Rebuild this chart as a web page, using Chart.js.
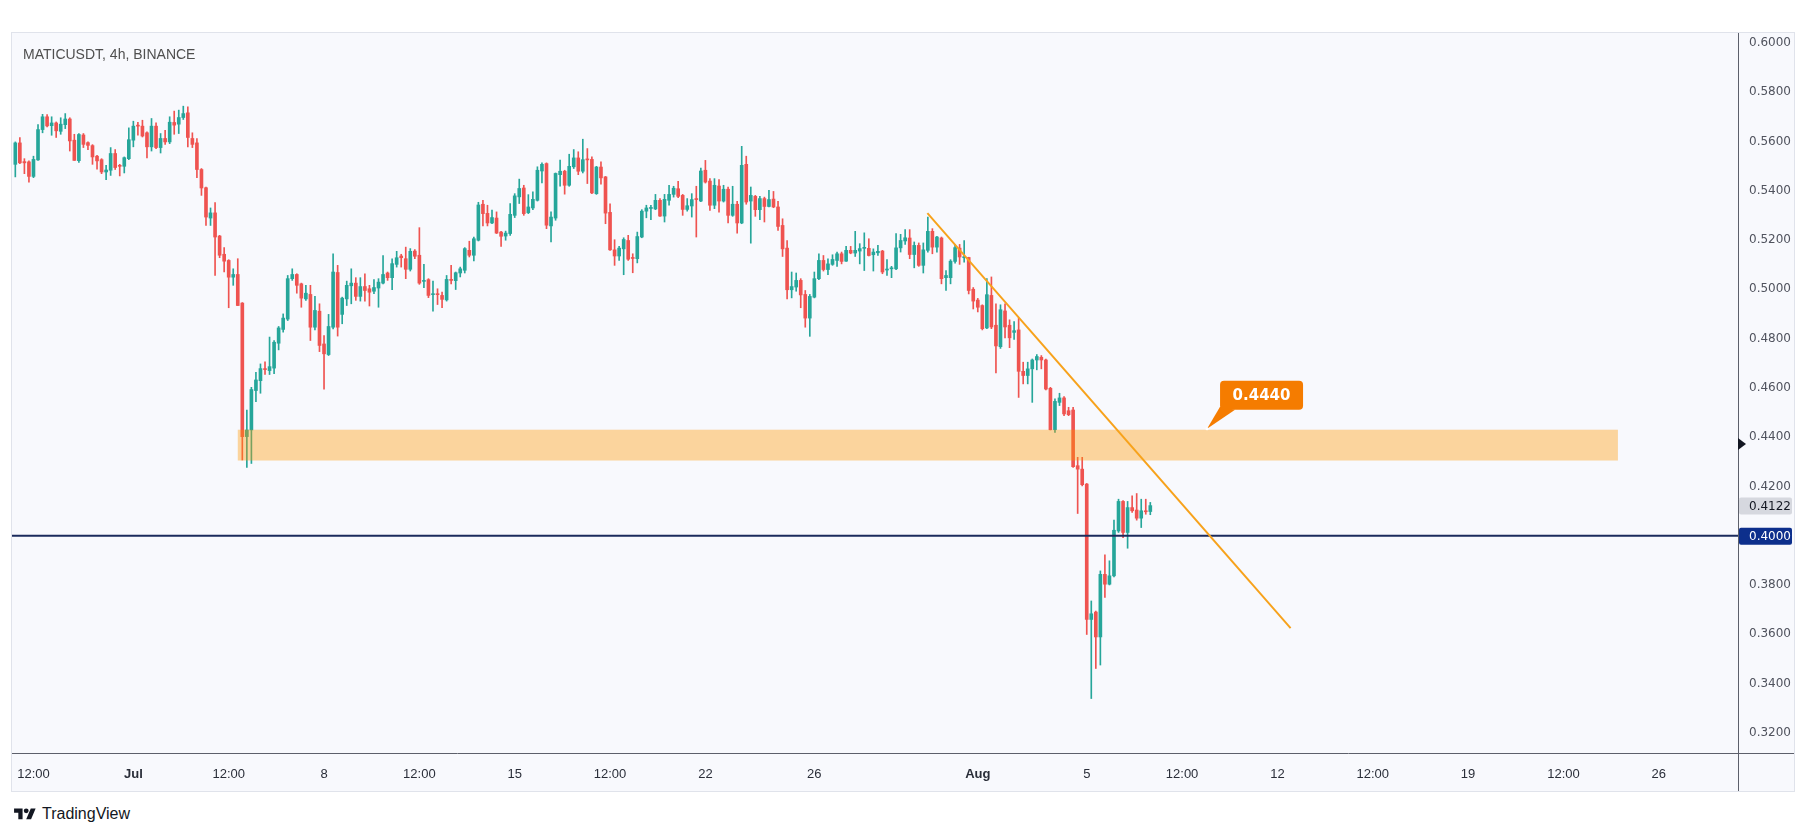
<!DOCTYPE HTML>
<html>
  <head>
    <meta charset="UTF-8"/>
    <title>MATICUSDT, 4h, BINANCE</title>
    <script src="https://cdn.jsdelivr.net/npm/chart.js"></script>
    <style>
     body {
       margin: 0;
       width: 1815px;
       height: 836px;
       background: #ffffff;
       position: relative;
       overflow: hidden;
       font-family: "Liberation Sans", Arial, sans-serif;
     }
     #panel {
       position: absolute;
       left: 11px;
       top: 32px;
       width: 1782px;
       height: 758px;
       border: 1px solid #e0e3eb;
       background: #f8f9fd;
     }
     #title {
       position: absolute;
       left: 11px;
       top: 13px;
       font-size: 14px;
       line-height: 16px;
       color: #4f4f4f;
       z-index: 2;
     }
     #logo {
       position: absolute;
       left: 14px;
       top: 805px;
       height: 18px;
       display: flex;
       align-items: center;
       color: #131722;
       font-size: 16px;
     }
     #logo svg { width: 22px; height: 17px; margin-right: 6px; }
    </style>
  </head>
  <body>
    <div id="panel">
      <div id="title">MATICUSDT, 4h, BINANCE</div>
      <canvas id="chart"></canvas>
    </div>
    <div id="logo">
      <svg viewBox="0 0 36 28"><path fill="#131722" d="M14 22H7V11H0V4h14v18zM28 22h-8l7.5-18h8L28 22z"/><circle fill="#131722" cx="20" cy="8" r="4"/></svg>
      <span>TradingView</span>
    </div>

    <script>
     // 4h candles, one per index
     var opens = [
         0.5507, 0.5594, 0.5518, 0.5517, 0.5458, 0.5525, 0.5648, 0.5700, 0.5664, 0.5675,
         0.5641, 0.5668, 0.5691, 0.5605, 0.5522, 0.5626, 0.5595, 0.5583, 0.5540, 0.5526,
         0.5476, 0.5483, 0.5551, 0.5503, 0.5499, 0.5530, 0.5605, 0.5666, 0.5662, 0.5635,
         0.5578, 0.5662, 0.5575, 0.5612, 0.5598, 0.5677, 0.5670, 0.5697, 0.5716, 0.5612,
         0.5594, 0.5486, 0.5412, 0.5289, 0.5310, 0.5216, 0.5142, 0.5117, 0.5049, 0.5060,
         0.4944, 0.4402, 0.4429, 0.4589, 0.4629, 0.4678, 0.4670, 0.4680, 0.4781, 0.4837,
         0.4879, 0.5043, 0.5060, 0.5022, 0.4961, 0.4979, 0.4846, 0.4911, 0.4778, 0.4735,
         0.4846, 0.5068, 0.4898, 0.4961, 0.5014, 0.5025, 0.4971, 0.5011, 0.5002, 0.4992,
         0.5005, 0.5025, 0.5066, 0.5047, 0.5101, 0.5135, 0.5124, 0.5081, 0.5155, 0.5138,
         0.5032, 0.5039, 0.4978, 0.4980, 0.4975, 0.4957, 0.5040, 0.5035, 0.5066, 0.5077,
         0.5158, 0.5138, 0.5199, 0.5345, 0.5308, 0.5269, 0.5289, 0.5232, 0.5216, 0.5226,
         0.5300, 0.5375, 0.5411, 0.5311, 0.5330, 0.5361, 0.5480, 0.5510, 0.5257, 0.5289,
         0.5465, 0.5479, 0.5422, 0.5497, 0.5533, 0.5479, 0.5528, 0.5527, 0.5388, 0.5496,
         0.5456, 0.5312, 0.5160, 0.5135, 0.5164, 0.5198, 0.5128, 0.5124, 0.5212, 0.5317,
         0.5328, 0.5326, 0.5361, 0.5297, 0.5361, 0.5385, 0.5408, 0.5381, 0.5324, 0.5338,
         0.5366, 0.5358, 0.5483, 0.5439, 0.5341, 0.5419, 0.5358, 0.5406, 0.5300, 0.5345,
         0.5269, 0.5507, 0.5358, 0.5377, 0.5323, 0.5368, 0.5336, 0.5366, 0.5334, 0.5259,
         0.5167, 0.4998, 0.5009, 0.5036, 0.4979, 0.4883, 0.4968, 0.5043, 0.5117, 0.5080,
         0.5101, 0.5117, 0.5144, 0.5114, 0.5158, 0.5147, 0.5155, 0.5166, 0.5166, 0.5140,
         0.5148, 0.5155, 0.5078, 0.5083, 0.5083, 0.5168, 0.5196, 0.5208, 0.5141, 0.5178,
         0.5097, 0.5158, 0.5235, 0.5171, 0.5208, 0.5047, 0.5047, 0.5113, 0.5167, 0.5128,
         0.5129, 0.5000, 0.4956, 0.4934, 0.4843, 0.4975, 0.4854, 0.4767, 0.4912, 0.4854,
         0.4825, 0.4835, 0.4667, 0.4650, 0.4677, 0.4713, 0.4724, 0.4713, 0.4598, 0.4430,
         0.4541, 0.4559, 0.4507, 0.4510, 0.4284, 0.4270, 0.4209, 0.3660, 0.3690, 0.3589,
         0.3843, 0.3803, 0.3837, 0.4019, 0.4139, 0.4013, 0.4114, 0.4104, 0.4071, 0.4101,
         0.4098
     ];
     var highs = [
         0.5598, 0.5616, 0.5530, 0.5521, 0.5540, 0.5668, 0.5710, 0.5709, 0.5700, 0.5679,
         0.5696, 0.5713, 0.5696, 0.5629, 0.5632, 0.5632, 0.5598, 0.5587, 0.5544, 0.5530,
         0.5503, 0.5575, 0.5567, 0.5507, 0.5537, 0.5655, 0.5682, 0.5677, 0.5686, 0.5639,
         0.5693, 0.5675, 0.5632, 0.5645, 0.5700, 0.5723, 0.5727, 0.5743, 0.5740, 0.5635,
         0.5612, 0.5490, 0.5415, 0.5330, 0.5352, 0.5219, 0.5169, 0.5120, 0.5083, 0.5124,
         0.4946, 0.4510, 0.4602, 0.4663, 0.4697, 0.4705, 0.4806, 0.4792, 0.4849, 0.4900,
         0.5056, 0.5083, 0.5063, 0.5025, 0.5016, 0.5016, 0.4971, 0.4941, 0.4812, 0.4898,
         0.5144, 0.5097, 0.4968, 0.5033, 0.5083, 0.5047, 0.5047, 0.5063, 0.5016, 0.5039,
         0.5043, 0.5137, 0.5070, 0.5124, 0.5154, 0.5142, 0.5171, 0.5165, 0.5161, 0.5250,
         0.5101, 0.5043, 0.5033, 0.5002, 0.4989, 0.5056, 0.5097, 0.5070, 0.5090, 0.5169,
         0.5195, 0.5212, 0.5353, 0.5361, 0.5341, 0.5321, 0.5314, 0.5235, 0.5236, 0.5348,
         0.5388, 0.5447, 0.5422, 0.5384, 0.5395, 0.5497, 0.5513, 0.5513, 0.5314, 0.5472,
         0.5524, 0.5483, 0.5548, 0.5567, 0.5558, 0.5609, 0.5571, 0.5537, 0.5499, 0.5517,
         0.5458, 0.5347, 0.5201, 0.5174, 0.5209, 0.5219, 0.5144, 0.5232, 0.5323, 0.5341,
         0.5341, 0.5385, 0.5368, 0.5385, 0.5422, 0.5418, 0.5438, 0.5385, 0.5368, 0.5388,
         0.5418, 0.5492, 0.5523, 0.5449, 0.5449, 0.5445, 0.5422, 0.5415, 0.5418, 0.5357,
         0.5580, 0.5540, 0.5415, 0.5381, 0.5377, 0.5374, 0.5401, 0.5397, 0.5357, 0.5286,
         0.5198, 0.5070, 0.5066, 0.5043, 0.4995, 0.4979, 0.5070, 0.5144, 0.5137, 0.5124,
         0.5140, 0.5151, 0.5151, 0.5174, 0.5174, 0.5235, 0.5185, 0.5229, 0.5205, 0.5164,
         0.5178, 0.5158, 0.5120, 0.5093, 0.5226, 0.5223, 0.5242, 0.5242, 0.5192, 0.5188,
         0.5188, 0.5293, 0.5246, 0.5215, 0.5212, 0.5076, 0.5120, 0.5182, 0.5182, 0.5198,
         0.5130, 0.5007, 0.4963, 0.4937, 0.5043, 0.5050, 0.4941, 0.4937, 0.4941, 0.4876,
         0.4869, 0.4883, 0.4704, 0.4704, 0.4717, 0.4735, 0.4731, 0.4717, 0.4602, 0.4555,
         0.4578, 0.4564, 0.4521, 0.4521, 0.4318, 0.4318, 0.4212, 0.3735, 0.3694, 0.3857,
         0.3922, 0.3898, 0.4063, 0.4148, 0.4142, 0.4139, 0.4162, 0.4171, 0.4148, 0.4148,
         0.4135
     ];
     var lows = [
         0.5456, 0.5510, 0.5469, 0.5435, 0.5453, 0.5523, 0.5635, 0.5659, 0.5625, 0.5616,
         0.5629, 0.5652, 0.5561, 0.5523, 0.5515, 0.5575, 0.5567, 0.5507, 0.5487, 0.5469,
         0.5445, 0.5462, 0.5486, 0.5460, 0.5472, 0.5526, 0.5578, 0.5625, 0.5618, 0.5533,
         0.5561, 0.5571, 0.5553, 0.5588, 0.5591, 0.5629, 0.5632, 0.5689, 0.5578, 0.5575,
         0.5453, 0.5381, 0.5259, 0.5259, 0.5056, 0.5128, 0.5070, 0.4925, 0.5016, 0.4934,
         0.4307, 0.4277, 0.4293, 0.4544, 0.4578, 0.4654, 0.4654, 0.4657, 0.4754, 0.4826,
         0.4873, 0.5036, 0.4984, 0.4927, 0.4955, 0.4792, 0.4835, 0.4747, 0.4595, 0.4731,
         0.4839, 0.4810, 0.4860, 0.4934, 0.4941, 0.4955, 0.4952, 0.4952, 0.4932, 0.4982,
         0.4927, 0.5022, 0.5036, 0.4998, 0.5090, 0.5090, 0.5043, 0.5074, 0.5124, 0.5020,
         0.5006, 0.4966, 0.4911, 0.4938, 0.4925, 0.4952, 0.5022, 0.4999, 0.5050, 0.5066,
         0.5131, 0.5115, 0.5196, 0.5257, 0.5257, 0.5266, 0.5226, 0.5174, 0.5199, 0.5219,
         0.5291, 0.5348, 0.5300, 0.5307, 0.5323, 0.5358, 0.5432, 0.5246, 0.5192, 0.5280,
         0.5418, 0.5386, 0.5418, 0.5490, 0.5465, 0.5472, 0.5429, 0.5388, 0.5385, 0.5426,
         0.5266, 0.5158, 0.5097, 0.5117, 0.5059, 0.5117, 0.5067, 0.5107, 0.5209, 0.5290,
         0.5282, 0.5323, 0.5296, 0.5273, 0.5341, 0.5374, 0.5372, 0.5300, 0.5317, 0.5293,
         0.5212, 0.5355, 0.5431, 0.5320, 0.5327, 0.5313, 0.5354, 0.5269, 0.5296, 0.5228,
         0.5266, 0.5345, 0.5187, 0.5296, 0.5282, 0.5273, 0.5334, 0.5331, 0.5239, 0.5133,
         0.4961, 0.4965, 0.4992, 0.4925, 0.4846, 0.4809, 0.4965, 0.5039, 0.5074, 0.5059,
         0.5097, 0.5093, 0.5103, 0.5113, 0.5144, 0.5133, 0.5103, 0.5076, 0.5135, 0.5074,
         0.5137, 0.5063, 0.5056, 0.5047, 0.5080, 0.5151, 0.5182, 0.5124, 0.5087, 0.5093,
         0.5066, 0.5151, 0.5144, 0.5151, 0.5022, 0.4995, 0.5022, 0.5106, 0.5101, 0.5110,
         0.4981, 0.4920, 0.4908, 0.4835, 0.4840, 0.4840, 0.4660, 0.4760, 0.4803, 0.4763,
         0.4796, 0.4561, 0.4616, 0.4616, 0.4541, 0.4673, 0.4677, 0.4591, 0.4429, 0.4419,
         0.4528, 0.4487, 0.4487, 0.4277, 0.4090, 0.4202, 0.3599, 0.3339, 0.3461, 0.3475,
         0.3749, 0.3800, 0.3833, 0.4013, 0.3992, 0.3949, 0.4094, 0.4063, 0.4033, 0.4087,
         0.4085
     ];
     var closes = [
         0.5594, 0.5513, 0.5513, 0.5458, 0.5527, 0.5648, 0.5700, 0.5663, 0.5675, 0.5643,
         0.5670, 0.5691, 0.5602, 0.5523, 0.5628, 0.5588, 0.5584, 0.5537, 0.5521, 0.5476,
         0.5484, 0.5551, 0.5494, 0.5499, 0.5534, 0.5607, 0.5662, 0.5662, 0.5622, 0.5578,
         0.5662, 0.5575, 0.5612, 0.5598, 0.5678, 0.5666, 0.5697, 0.5713, 0.5616, 0.5588,
         0.5486, 0.5411, 0.5293, 0.5310, 0.5212, 0.5138, 0.5114, 0.5049, 0.5060, 0.4934,
         0.4402, 0.4429, 0.4593, 0.4632, 0.4678, 0.4674, 0.4686, 0.4785, 0.4843, 0.4883,
         0.5043, 0.5060, 0.5016, 0.4964, 0.4984, 0.4846, 0.4914, 0.4772, 0.4738, 0.4849,
         0.5070, 0.4846, 0.4964, 0.5016, 0.5025, 0.4971, 0.5011, 0.4995, 0.4988, 0.5007,
         0.5029, 0.5060, 0.5047, 0.5104, 0.5128, 0.5128, 0.5081, 0.5154, 0.5134, 0.5025,
         0.5036, 0.4975, 0.4980, 0.4978, 0.4959, 0.5040, 0.5036, 0.5067, 0.5083, 0.5165,
         0.5138, 0.5205, 0.5342, 0.5307, 0.5269, 0.5291, 0.5228, 0.5215, 0.5228, 0.5304,
         0.5379, 0.5409, 0.5307, 0.5334, 0.5365, 0.5483, 0.5507, 0.5260, 0.5293, 0.5470,
         0.5479, 0.5422, 0.5499, 0.5533, 0.5479, 0.5526, 0.5525, 0.5391, 0.5496, 0.5452,
         0.5309, 0.5160, 0.5135, 0.5167, 0.5202, 0.5122, 0.5125, 0.5214, 0.5317, 0.5330,
         0.5331, 0.5361, 0.5297, 0.5365, 0.5385, 0.5410, 0.5377, 0.5324, 0.5339, 0.5364,
         0.5364, 0.5480, 0.5435, 0.5341, 0.5422, 0.5358, 0.5406, 0.5300, 0.5345, 0.5269,
         0.5503, 0.5354, 0.5381, 0.5323, 0.5368, 0.5336, 0.5364, 0.5334, 0.5255, 0.5164,
         0.4998, 0.5011, 0.5036, 0.4977, 0.4883, 0.4971, 0.5043, 0.5117, 0.5080, 0.5103,
         0.5121, 0.5144, 0.5113, 0.5158, 0.5147, 0.5158, 0.5165, 0.5169, 0.5137, 0.5151,
         0.5154, 0.5070, 0.5080, 0.5086, 0.5168, 0.5198, 0.5209, 0.5141, 0.5178, 0.5097,
         0.5160, 0.5235, 0.5171, 0.5212, 0.5043, 0.5056, 0.5114, 0.5169, 0.5131, 0.5131,
         0.4995, 0.4952, 0.4927, 0.4840, 0.4978, 0.4847, 0.4770, 0.4917, 0.4847, 0.4803,
         0.4832, 0.4667, 0.4650, 0.4677, 0.4713, 0.4727, 0.4713, 0.4595, 0.4430, 0.4545,
         0.4559, 0.4494, 0.4491, 0.4280, 0.4270, 0.4207, 0.3660, 0.3683, 0.3589, 0.3843,
         0.3803, 0.3837, 0.4022, 0.4139, 0.4013, 0.4114, 0.4101, 0.4071, 0.4101, 0.4097,
         0.4122
     ];

     // time axis labels, placed at candle index
     var tickIdx = [4, 26, 47, 68, 89, 110, 131, 152, 176, 212, 236, 257, 278, 299, 320, 341, 362];
     var tickText = ["12:00", "Jul", "12:00", "8", "12:00", "15", "12:00", "22", "26",
                     "Aug", "5", "12:00", "12", "12:00", "19", "12:00", "26"];
     var priceTicks = [0.32, 0.34, 0.36, 0.38, 0.40, 0.42, 0.44, 0.46, 0.48,
                       0.50, 0.52, 0.54, 0.56, 0.58, 0.60];

     // drawings
     var zoneRange = [49, 353];
     var zonePrices = [0.4305, 0.4430];
     var levelPrice = 0.4000;
     var trendIdx = [200.9, 280.9];
     var trendPrice = [0.5309, 0.3625];
     var callout = [262.5, 0.4434];
     var calloutText = "0.4440";
     var markerPrice = 0.4372;

     var UP = "#26a69a", DOWN = "#ef5350";
     var xMin = -0.73, xMax = 379.45;
     var yMin = 0.3118, yMax = 0.6040;

     var idx = closes.map((c, i) => i);
     var colors = closes.map((c, i) => c >= opens[i] ? UP : DOWN);

     function box(ctx, x, y, w, h, r){
         ctx.beginPath();
         if (ctx.roundRect) ctx.roundRect(x, y, w, h, r);
         else ctx.rect(x, y, w, h);
         ctx.fill();
     }

     var drawings = {
         id: "drawings",
         afterDatasetDraw: function(chart, args){
             if (args.index !== 1) return;
             var ctx = chart.ctx, a = chart.chartArea;
             var x = chart.scales.x, y = chart.scales.y;
             var x0 = x.getPixelForValue(zoneRange[0]), x1 = x.getPixelForValue(zoneRange[1]);
             var y0 = y.getPixelForValue(zonePrices[1]), y1 = y.getPixelForValue(zonePrices[0]);
             ctx.save();
             ctx.beginPath();
             ctx.rect(a.left, a.top, a.right - a.left, a.bottom - a.top);
             ctx.clip();
             ctx.fillStyle = "rgba(255, 152, 0, 0.38)";
             ctx.fillRect(x0, y0, x1 - x0, y1 - y0);
             ctx.restore();
         },
         afterDraw: function(chart){
             var ctx = chart.ctx, a = chart.chartArea;
             var x = chart.scales.x, y = chart.scales.y;
             var W = chart.width, H = chart.height;
             ctx.save();

             // axis lines
             ctx.strokeStyle = "#5d606b";
             ctx.lineWidth = 1;
             ctx.beginPath();
             ctx.moveTo(Math.round(a.right) + 0.5, 0);
             ctx.lineTo(Math.round(a.right) + 0.5, H);
             ctx.moveTo(0, Math.round(a.bottom) + 0.5);
             ctx.lineTo(W, Math.round(a.bottom) + 0.5);
             ctx.stroke();

             // callout
             var ax = x.getPixelForValue(callout[0]), ay = y.getPixelForValue(callout[1]);
             var bx = ax + 13, by = ay - 48, bw = 83, bh = 29;
             ctx.fillStyle = "#f57c00";
             ctx.beginPath();
             ctx.moveTo(ax, ay);
             ctx.lineTo(bx, by + bh - 3);
             ctx.lineTo(bx + 15, by + bh);
             ctx.closePath();
             ctx.fill();
             box(ctx, bx, by, bw, bh, 4);
             ctx.fillStyle = "#ffffff";
             ctx.beginPath();
             ctx.arc(ax, ay, 1.5, 0, Math.PI * 2);
             ctx.fill();
             ctx.font = "bold 15px 'DejaVu Sans'";
             ctx.textAlign = "center";
             ctx.textBaseline = "middle";
             ctx.fillText(calloutText, bx + bw / 2, by + bh / 2 + 1);

             // price labels on the axis
             ctx.font = "12px 'DejaVu Sans'";
             ctx.textAlign = "left";
             var py = y.getPixelForValue(closes[closes.length - 1]);
             ctx.fillStyle = "#d6d8df";
             box(ctx, a.right + 1, py - 8, W - a.right - 3, 17, 2);
             ctx.fillStyle = "#131722";
             ctx.fillText(closes[closes.length - 1].toFixed(4), a.right + 11, py + 1);

             var ly = y.getPixelForValue(levelPrice);
             ctx.fillStyle = "#0d2f8c";
             box(ctx, a.right + 1, ly - 8, W - a.right - 3, 17, 2);
             ctx.fillStyle = "#ffffff";
             ctx.fillText(levelPrice.toFixed(4), a.right + 11, ly + 1);

             // marker triangle
             var my = y.getPixelForValue(markerPrice);
             ctx.fillStyle = "#131722";
             ctx.beginPath();
             ctx.moveTo(a.right, my - 6);
             ctx.lineTo(a.right + 8, my);
             ctx.lineTo(a.right, my + 6);
             ctx.closePath();
             ctx.fill();

             ctx.restore();
         }
     };

     var chart = new Chart("chart", {
         type: "bar",
         data: {
             datasets: [{
                 label: "wick",
                 data: idx.map(i => ({x: i, y: [lows[i], highs[i]]})),
                 backgroundColor: colors,
                 grouped: false,
                 barThickness: 1,
                 maxBarThickness: 1,
                 order: 3
             }, {
                 label: "body",
                 data: idx.map(i => ({x: i, y: [opens[i], closes[i]]})),
                 backgroundColor: colors,
                 grouped: false,
                 barThickness: 3,
                 maxBarThickness: 3,
                 minBarLength: 1,
                 order: 2
             }, {
                 type: "line",
                 label: "level",
                 data: [{x: xMin, y: levelPrice}, {x: xMax, y: levelPrice}],
                 borderColor: "#1b2b5c",
                 borderWidth: 2,
                 pointRadius: 0,
                 order: 1
             }, {
                 type: "line",
                 label: "trend",
                 data: trendIdx.map((v, i) => ({x: v, y: trendPrice[i]})),
                 borderColor: "#f7a21b",
                 borderWidth: 2,
                 pointRadius: 0,
                 order: 0
             }]
         },
         options: {
             responsive: true,
             maintainAspectRatio: false,
             animation: false,
             layout: {padding: 0},
             plugins: {
                 legend: {display: false},
                 tooltip: {enabled: false}
             },
             scales: {
                 x: {
                     type: "linear",
                     min: xMin,
                     max: xMax,
                     offset: false,
                     grid: {display: false, drawTicks: false},
                     border: {display: false},
                     afterBuildTicks: s => { s.ticks = tickIdx.map(v => ({value: v})); },
                     afterFit: s => { s.height = 38; s.paddingLeft = 0; s.paddingRight = 0; },
                     ticks: {
                         autoSkip: false,
                         maxRotation: 0,
                         padding: 14,
                         color: "#2a2e39",
                         font: c => ({
                             family: "Liberation Sans",
                             size: 13,
                             weight: (tickText[c.index] === "Jul" || tickText[c.index] === "Aug") ? "bold" : "normal"
                         }),
                         callback: (v, i) => tickText[i]
                     }
                 },
                 y: {
                     type: "linear",
                     position: "right",
                     min: yMin,
                     max: yMax,
                     grid: {display: false, drawTicks: false},
                     border: {display: false},
                     afterBuildTicks: s => { s.ticks = priceTicks.map(v => ({value: v})); },
                     afterFit: s => { s.width = 56; s.paddingTop = 0; s.paddingBottom = 0; },
                     ticks: {
                         autoSkip: false,
                         padding: 11,
                         color: "#50535e",
                         font: {family: "DejaVu Sans", size: 12},
                         callback: v => v.toFixed(4)
                     }
                 }
             }
         },
         plugins: [drawings]
     });
    </script>

  </body>
</html>
